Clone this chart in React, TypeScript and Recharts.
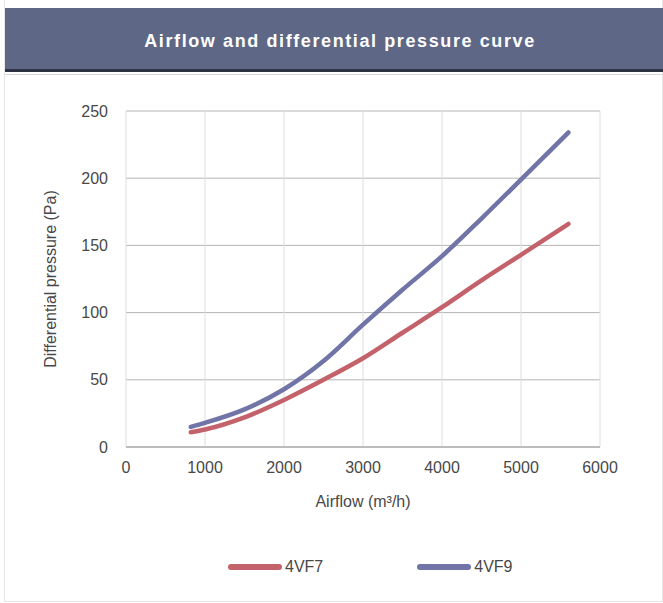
import { LineChart, Line, XAxis, YAxis, CartesianGrid } from 'recharts'

const airflow = [820, 1000, 1500, 2000, 2500, 3000, 3500, 4000, 4500, 5000, 5600]
const vf7 = [11, 13, 22, 35, 50, 66, 85, 104, 124, 143, 166]
const vf9 = [15, 18, 28, 43, 64, 91, 117, 142, 170, 199, 234]
const xTicks = [0, 1000, 2000, 3000, 4000, 5000, 6000]
const yTicks = [0, 50, 100, 150, 200, 250]

const data = airflow.map((a, i) => ({ airflow: a, vf7: vf7[i], vf9: vf9[i] }))

const FONT = '"Liberation Sans", Arial, sans-serif'
const RED = '#c4626c'
const BLUE = '#7074a6'
const TEXT = '#484848'

const series = [
  { key: 'vf7', name: '4VF7', color: RED },
  { key: 'vf9', name: '4VF9', color: BLUE },
]

export default function App() {
  return (
    <div style={{ position: 'absolute', left: 0, top: 0, width: 663, height: 603, background: '#fff', fontFamily: FONT }}>
      <div style={{ position: 'absolute', left: 4, top: 0, width: 657, height: 601, borderLeft: '1px solid #e6e6e6', borderRight: '1px solid #e6e6e6', borderBottom: '1px solid #e6e6e6' }} />
      <div
        style={{
          position: 'absolute', left: 5, top: 8, width: 658, height: 61, boxSizing: 'content-box',
          background: '#5e6886', borderBottom: '3px solid #2e3344',
          color: '#fff', fontWeight: 'bold', fontSize: 18, letterSpacing: 1.6,
          display: 'flex', alignItems: 'center', justifyContent: 'center',
        }}
      >
        <span style={{ position: 'relative', top: 3, left: 6 }}>Airflow and differential pressure curve</span>
      </div>
      <div style={{ position: 'absolute', left: 5, top: 74, width: 658, height: 1, background: '#d8d8d8' }} />
      <div style={{ position: 'absolute', left: 0, top: 0 }}>
        <LineChart width={663} height={603} data={data} margin={{ top: 111, right: 63, bottom: 96, left: 30 }}>
          <CartesianGrid stroke="#b4b4b4" vertical={false} />
          <CartesianGrid stroke="#dedede" horizontal={false} />
          <XAxis
            dataKey="airflow"
            type="number"
            domain={[0, 6000]}
            ticks={xTicks}
            axisLine={{ stroke: '#a0a0a0' }}
            tickLine={false}
            tickMargin={9}
            height={60}
            tick={{ fontSize: 16, fill: TEXT, fontFamily: FONT }}
            label={{ value: 'Airflow (m³/h)', position: 'insideBottom', offset: 0, fontSize: 16, fill: TEXT, fontFamily: FONT }}
          />
          <YAxis
            type="number"
            domain={[0, 250]}
            ticks={yTicks}
            axisLine={false}
            tickLine={false}
            tickMargin={12}
            width={96}
            tick={{ fontSize: 16, fill: TEXT, fontFamily: FONT }}
            label={{ value: 'Differential pressure (Pa)', angle: -90, position: 'insideLeft', offset: 20, style: { textAnchor: 'middle' }, fontSize: 16, fill: TEXT, fontFamily: FONT }}
          />
          {series.map(s => (
            <Line
              key={s.key}
              dataKey={s.key}
              name={s.name}
              type="monotone"
              stroke={s.color}
              strokeWidth={4.5}
              strokeLinecap="round"
              dot={false}
              isAnimationActive={false}
            />
          ))}
        </LineChart>
      </div>
      <div style={{ position: 'absolute', left: 228, top: 558, display: 'flex', gap: 94, fontSize: 16, color: TEXT }}>
        {series.map(s => (
          <div key={s.key} style={{ display: 'flex', alignItems: 'center' }}>
            <span style={{ display: 'inline-block', width: 54, height: 6, borderRadius: 3, background: s.color, marginRight: 3 }} />
            {s.name}
          </div>
        ))}
      </div>
    </div>
  )
}
